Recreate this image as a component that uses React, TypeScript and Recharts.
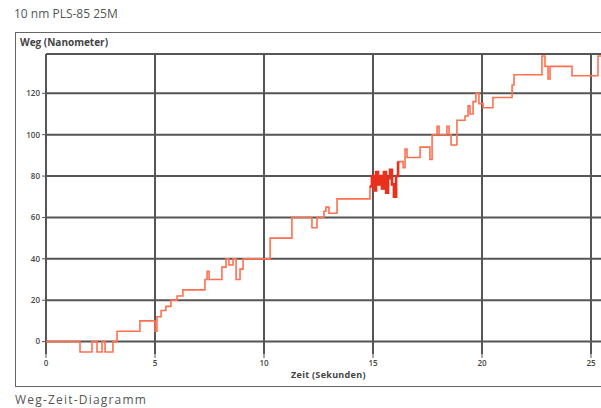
import { LineChart, Line, XAxis, YAxis, CartesianGrid } from "recharts";

// Zeit (s) und Weg (nm)
const zeit = [
  0, 1.56, 2.11, 2.34, 2.57, 2.71, 3.07, 3.26, 4.31, 5.0, 5.09, 5.28, 5.5, 5.73, 6.01, 6.28,
  7.29, 7.39, 7.48, 8.07, 8.26, 8.39, 8.58, 8.72, 8.9, 9.04, 10.28, 11.28, 12.2, 12.43, 12.75,
  12.84, 12.98, 13.35, 14.86, 14.95, 15.05, 15.14, 15.23, 15.32, 15.41, 15.5, 15.6, 15.69,
  15.78, 15.87, 15.96, 16.06, 16.15, 16.38, 16.47, 16.56, 17.16, 17.61, 17.71, 17.94, 18.03,
  18.39, 18.49, 18.58, 18.85, 19.22, 19.36, 19.45, 19.59, 19.72, 19.86, 20.05, 20.5, 21.38,
  21.47, 22.75, 22.89, 23.03, 23.12, 24.13, 25.32, 26,
];
const weg = [
  0, -5, 0, -5, 0, -5, 0, 5, 10, 5, 12, 15, 17, 20, 22, 25,
  30, 34, 30, 36, 40, 37, 40, 30, 35, 40, 50, 60, 55, 60, 63,
  65, 62, 69, 75, 80, 73, 82, 76, 80, 74, 82, 72, 79,
  83, 76, 70, 80, 87, 84, 93, 89, 94, 88, 100, 104, 100,
  104, 100, 95, 107, 109, 114, 110, 116, 120, 115, 113, 118, 124,
  129, 138, 133, 127, 133, 128.5, 138, 138,
];

const xTicks = [0, 5, 10, 15, 20, 25];
const yTicks = [0, 20, 40, 60, 80, 100, 120];
const yMin = -6;
const yMax = 139;

const data = zeit.map((t, i) => ({
  t,
  weg: weg[i],
  dicht: t >= 14.86 && t <= 16.15 ? weg[i] : null,
}));

const font = "'Open Sans', 'DejaVu Sans', sans-serif";

export default function App() {
  return (
    <div style={{ position: "relative", width: 601, height: 408, overflow: "hidden", background: "#fff", fontFamily: font }}>
      <style>{`body{margin:0}`}</style>
      <div style={{ position: "absolute", left: 14, top: 5, fontSize: 12, color: "#555", whiteSpace: "nowrap" }}>
        10 nm PLS-85 25M
      </div>
      <div
        style={{
          position: "absolute",
          left: 15,
          top: 32,
          width: 640,
          height: 355,
          border: "1.5px solid #666",
          boxSizing: "border-box",
        }}
      />
      <div style={{ position: "absolute", left: 20, top: 35, fontSize: 10, fontWeight: 700, color: "#444", whiteSpace: "nowrap" }}>
        Weg (Nanometer)
      </div>
      <div style={{ position: "absolute", left: 0, top: 0 }}>
        <LineChart width={640} height={408} data={data} margin={{ top: 54, right: 27.2, bottom: 34, left: 16 }}>
          <CartesianGrid
            stroke="#555"
            strokeWidth={2}
            horizontalValues={[yMin, ...yTicks, yMax]}
            verticalValues={xTicks}
          />
          <XAxis
            dataKey="t"
            type="number"
            domain={[0, 26]}
            ticks={xTicks}
            axisLine={false}
            tickLine={{ stroke: "#555" }}
            tickSize={4}
            height={20}
            tick={{ fontSize: 8, fill: "#444", fontFamily: font, fontWeight: 600 }}
          />
          <YAxis
            type="number"
            domain={[yMin, yMax]}
            ticks={yTicks}
            axisLine={false}
            tickLine={{ stroke: "#555" }}
            tickSize={4}
            width={30}
            tick={{ fontSize: 8, fill: "#444", fontFamily: font, fontWeight: 600 }}
          />
          <Line
            type="stepAfter"
            dataKey="weg"
            stroke="#ff6f50"
            strokeWidth={1.6}
            dot={false}
            isAnimationActive={false}
          />
          <Line
            type="stepAfter"
            dataKey="dicht"
            stroke="#e8301c"
            strokeWidth={2.6}
            dot={false}
            connectNulls={false}
            isAnimationActive={false}
          />
        </LineChart>
      </div>
      <div
        style={{
          position: "absolute",
          left: 291,
          top: 368,
          fontSize: 9,
          fontWeight: 700,
          letterSpacing: 0.3,
          color: "#444",
          whiteSpace: "nowrap",
        }}
      >
        Zeit (Sekunden)
      </div>
      <div
        style={{
          position: "absolute",
          left: 15,
          top: 391,
          fontSize: 12,
          letterSpacing: 1.2,
          color: "#555",
          whiteSpace: "nowrap",
        }}
      >
        Weg-Zeit-Diagramm
      </div>
    </div>
  );
}
